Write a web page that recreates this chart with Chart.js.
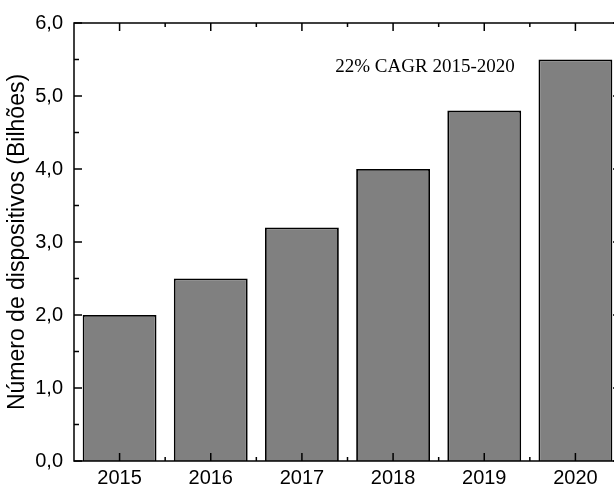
<!DOCTYPE html>
<html>
<head>
<meta charset="utf-8">
<script src="https://cdn.jsdelivr.net/npm/chart.js@4"></script>
<style>
  html, body { margin: 0; padding: 0; background: #fff; overflow: hidden; }
  #wrap { width: 630px; height: 486px; }
</style>
</head>
<body>
<div id="wrap"><canvas id="chart"></canvas></div>
<script>
// dados
const anos = ['2015', '2016', '2017', '2018', '2019', '2020'];
const dispositivos = [2.0, 2.5, 3.2, 4.0, 4.8, 5.5];
const yMin = 0, yMax = 6;
const anotacao = '22% CAGR 2015-2020';

// moldura e ticks para dentro (estilo Origin)
const molduraPlugin = {
    id: 'moldura',
    afterDraw(chart) {
        const ctx = chart.ctx;
        const a = chart.chartArea;
        const x = chart.scales.x, y = chart.scales.y;
        ctx.save();
        ctx.strokeStyle = '#000';
        ctx.lineWidth = 1.5;
        ctx.strokeRect(a.left, a.top, a.right - a.left, a.bottom - a.top);
        ctx.beginPath();
        for (let v = yMin; v <= yMax; v += 0.5) {
            const py = y.getPixelForValue(v);
            const len = Number.isInteger(v) ? 8 : 5;
            ctx.moveTo(a.left, py); ctx.lineTo(a.left + len, py);
            ctx.moveTo(a.right, py); ctx.lineTo(a.right - len, py);
        }
        anos.forEach((_, i) => {
            const px = x.getPixelForValue(i);
            ctx.moveTo(px, a.bottom); ctx.lineTo(px, a.bottom - 8);
            ctx.moveTo(px, a.top); ctx.lineTo(px, a.top + 8);
            if (i < anos.length - 1) {
                const pm = (px + x.getPixelForValue(i + 1)) / 2;
                ctx.moveTo(pm, a.bottom); ctx.lineTo(pm, a.bottom - 4);
                ctx.moveTo(pm, a.top); ctx.lineTo(pm, a.top + 4);
            }
        });
        ctx.stroke();
        // texto CAGR
        ctx.fillStyle = '#000';
        ctx.font = '19px "Liberation Serif", "Times New Roman", serif';
        ctx.textAlign = 'center';
        ctx.textBaseline = 'middle';
        ctx.fillText(anotacao, x.getPixelForValue(3.35), y.getPixelForValue(5.4));
        ctx.restore();
    }
};

new Chart(document.getElementById('chart'), {
    type: 'bar',
    data: {
        labels: anos,
        datasets: [{
            data: dispositivos,
            backgroundColor: '#808080',
            borderColor: '#000',
            borderWidth: 1.8,
            barPercentage: 0.81,
            categoryPercentage: 1.0
        }]
    },
    options: {
        responsive: true,
        maintainAspectRatio: false,
        animation: false,
        layout: { padding: { left: 0, top: 21, right: 9, bottom: 0 } },
        plugins: { legend: { display: false }, tooltip: { enabled: false } },
        scales: {
            x: {
                grid: { display: false, drawTicks: false },
                border: { display: false },
                ticks: { color: '#000', padding: 5, font: { family: '"Liberation Sans", Arial', size: 20 } },
                afterFit: s => { s.height = 25; }
            },
            y: {
                min: yMin, max: yMax,
                grid: { display: false, drawTicks: false },
                border: { display: false },
                ticks: {
                    stepSize: 1, color: '#000', padding: 11,
                    font: { family: '"Liberation Sans", Arial', size: 20 },
                    callback: v => v.toFixed(1).replace('.', ',')
                },
                title: {
                    display: true, text: 'Número de dispositivos (Bilhões)', color: '#000',
                    font: { family: '"Liberation Sans", Arial', size: 23 },
                    padding: { top: 4, bottom: 0 }
                },
                afterFit: s => { s.width = 74; }
            }
        }
    },
    plugins: [molduraPlugin]
});
</script>
</body>
</html>
